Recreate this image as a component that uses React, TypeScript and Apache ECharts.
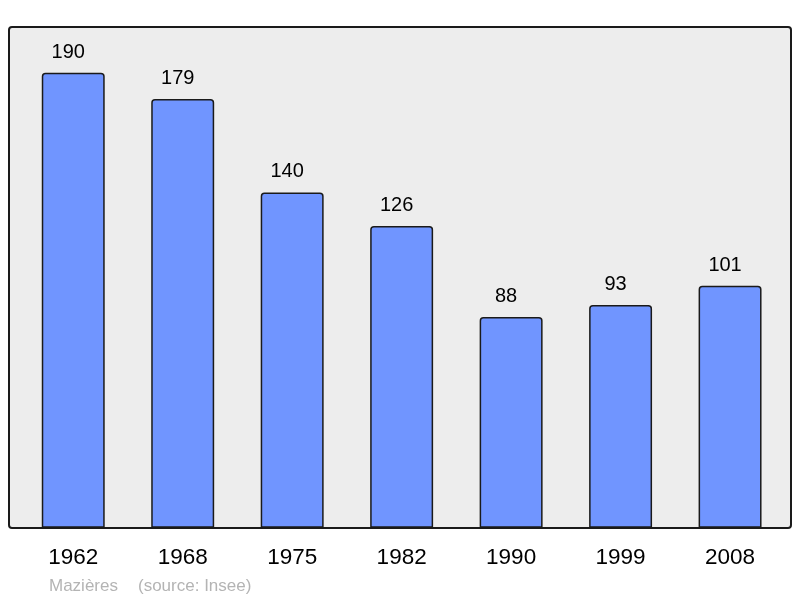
import React, { useEffect, useRef } from "react";
import * as echarts from "echarts";

const years = ["1962", "1968", "1975", "1982", "1990", "1999", "2008"];
const population = [190, 179, 140, 126, 88, 93, 101];
const commune = "Mazières";
const source = "(source: Insee)";

const FONT = "Liberation Sans, Arial, sans-serif";

function App() {
  const chartRef = useRef<HTMLDivElement>(null);

  useEffect(() => {
    if (!chartRef.current) return;
    const chart = echarts.init(chartRef.current, undefined, { renderer: "svg" });
    const maxValue = Math.max(...population) * 1.1;
    const options: echarts.EChartsOption = {
      animation: false,
      textStyle: { fontFamily: FONT },
      grid: {
        left: 18.5,
        right: 15.2,
        top: 27.2,
        bottom: 70.3,
      },
      graphic: [
        {
          type: "rect",
          z: -10,
          shape: { x: 9, y: 27, width: 782, height: 501, r: 3 },
          style: { fill: "#ededed", stroke: "#1a1a1a", lineWidth: 2 },
        },
        {
          type: "text",
          x: 49,
          y: 585,
          style: {
            text: commune,
            fill: "#b4b4b4",
            font: `17px ${FONT}`,
            verticalAlign: "middle",
          },
        },
        {
          type: "text",
          x: 138,
          y: 585,
          style: {
            text: source,
            fill: "#b4b4b4",
            font: `17px ${FONT}`,
            verticalAlign: "middle",
          },
        },
      ],
      xAxis: {
        type: "category",
        data: years,
        axisLine: { show: false },
        axisTick: { show: false },
        axisLabel: {
          color: "#000",
          fontSize: 22.5,
          fontFamily: FONT,
          margin: 17,
        },
      },
      yAxis: {
        type: "value",
        min: 0,
        max: maxValue,
        show: false,
        splitLine: { show: false },
      },
      series: [
        {
          type: "bar",
          data: population,
          barWidth: "57.5%",
          itemStyle: {
            color: "#7095ff",
            borderColor: "#1a1a1a",
            borderWidth: 1.5,
            borderRadius: [3, 3, 0, 0],
          },
          label: {
            show: true,
            position: "top",
            distance: 12,
            offset: [-5, 0],
            color: "#000",
            fontSize: 20,
            fontFamily: FONT,
          },
        },
      ],
    };
    chart.setOption(options);
    return () => {
      chart.dispose();
    };
  }, []);

  return (
    <div
      ref={chartRef}
      style={{ position: "fixed", left: 0, top: 0, width: "800px", height: "598px" }}
    />
  );
}

export default App;
